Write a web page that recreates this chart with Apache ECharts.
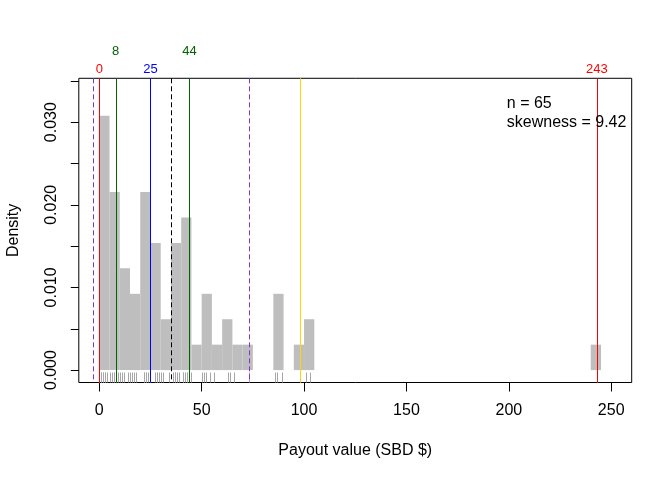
<!DOCTYPE html>
<html>
<head>
<meta charset="utf-8">
<script src="https://cdn.jsdelivr.net/npm/echarts@6/dist/echarts.min.js"></script>
<style>
html,body{margin:0;padding:0;background:#fff;}
#chart{width:672px;height:480px;}
</style>
</head>
<body>
<div id="chart"></div>
<script>
// ---- data ----
const n = 65;
const binWidth = 5;
const binStarts = [0, 5, 10, 15, 20, 25, 30, 35, 40, 45, 50, 55, 60, 65, 70, 85, 95, 100, 240];
const binCounts = [10, 7, 4, 3, 7, 5, 2, 5, 6, 1, 3, 1, 2, 1, 1, 3, 1, 2, 1];
const rugValues = [0, 0, 1, 1, 2, 2, 3, 3, 4, 5,
  6, 7, 7, 8, 8, 9, 10,
  11, 12, 14, 15,
  16, 17, 18,
  22, 22, 23, 23, 24, 25, 25,
  27, 28, 28, 29, 30,
  31, 34,
  36, 37, 37, 38, 39,
  41, 41, 42, 43, 43, 45,
  50,
  51, 52, 54,
  56,
  63, 64,
  66,
  73,
  86, 87, 89,
  98,
  101, 103,
  243];
const refLineValues = [-2.9, 0, 8, 25, 35.2, 44, 73.3, 98.2, 243];
const lowerLabelValues = [0, 25, 243];
const upperLabelValues = [8, 44];
const xTicks = [0, 50, 100, 150, 200, 250];
const yTicks = [0, 0.005, 0.01, 0.015, 0.02, 0.025, 0.03, 0.035];
const yTickLabels = [0, 0.01, 0.02, 0.03];
const annotationLines = ['n = 65', 'skewness = 9.42'];
const annotationX = 199;
const annotationY = [0.0323, 0.0299];

// ---- styles ----
const FONT = 'Liberation Sans, Arial, sans-serif';
const X_MIN = -10, X_MAX = 260;
const Y_MIN = -0.0015, Y_MAX = 0.0353;
const refLineStyles = [
  {color: '#8A2BE2', dash: [5, 3]},
  {color: '#FF0000', dash: null},
  {color: '#006400', dash: null},
  {color: '#0000FF', dash: null},
  {color: '#000000', dash: [5, 3]},
  {color: '#006400', dash: null},
  {color: '#8A2BE2', dash: [5, 3]},
  {color: '#FFD700', dash: null},
  {color: '#FF0000', dash: null}
];
const lowerLabelColors = ['#FF0000', '#0000FF', '#FF0000'];
const upperLabelColors = ['#006400', '#006400'];

const chart = echarts.init(document.getElementById('chart'), null, {renderer: 'canvas'});

const option = {
  animation: false,
  backgroundColor: '#ffffff',
  grid: {
    left: 78.8, right: 40.3, top: 78.3, bottom: 97.5,
    outerBoundsMode: 'none', containLabel: false,
    show: true, borderColor: '#000', borderWidth: 1, backgroundColor: 'transparent'
  },
  xAxis: {
    type: 'value', min: X_MIN, max: X_MAX, scale: true,
    axisLine: {show: false, onZero: false},
    splitLine: {show: false},
    axisTick: {show: true, inside: false, customValues: xTicks, length: 9, lineStyle: {color: '#000'}},
    axisLabel: {customValues: xTicks, margin: 20, fontSize: 16, fontFamily: FONT, color: '#000'},
    name: 'Payout value (SBD $)', nameLocation: 'middle', nameGap: 60,
    nameTextStyle: {fontSize: 16, fontFamily: FONT, color: '#000'}
  },
  yAxis: {
    type: 'value', min: Y_MIN, max: Y_MAX, scale: true,
    axisLine: {show: false, onZero: false},
    splitLine: {show: false},
    axisTick: {show: true, inside: false, customValues: yTicks, length: 8, lineStyle: {color: '#000'}},
    axisLabel: {customValues: yTickLabels, rotate: 90, margin: 19, fontSize: 16, fontFamily: FONT, color: '#000',
      formatter: v => Number(v).toFixed(3)},
    name: 'Density', nameLocation: 'middle', nameGap: 57, nameRotate: 90,
    nameTextStyle: {fontSize: 16, fontFamily: FONT, color: '#000'}
  },
  series: [
    {
      type: 'custom', z: 1,
      data: binStarts.map((s, i) => [s, binCounts[i] / (n * binWidth)]),
      renderItem: (params, api) => {
        const x0 = api.value(0), d = api.value(1);
        const p0 = api.coord([x0, d]);
        const p1 = api.coord([x0 + binWidth, 0]);
        return {type: 'rect', shape: {x: p0[0], y: p0[1], width: p1[0] - p0[0], height: p1[1] - p0[1]},
          style: {fill: '#BEBEBE'}};
      }
    },
    {
      type: 'custom', z: 2,
      data: rugValues.map(v => [v]),
      renderItem: (params, api) => {
        const p = api.coord([api.value(0), Y_MIN]);
        const x = Math.round(p[0]) + 0.5;
        return {type: 'line', shape: {x1: x, y1: p[1], x2: x, y2: p[1] - 10},
          style: {stroke: '#A6A6A6', lineWidth: 1}};
      }
    },
    {
      type: 'custom', z: 3,
      data: refLineValues.map(v => [v]),
      renderItem: (params, api) => {
        const top = api.coord([api.value(0), Y_MAX]);
        const bot = api.coord([api.value(0), Y_MIN]);
        const st = refLineStyles[params.dataIndex];
        const x = Math.round(top[0]) + 0.5;
        return {type: 'line', shape: {x1: x, y1: top[1], x2: x, y2: bot[1]},
          style: {stroke: st.color, lineWidth: 1, lineDash: st.dash || undefined}};
      }
    },
    {
      type: 'custom', z: 4, clip: false,
      data: lowerLabelValues.map(v => [v]),
      renderItem: (params, api) => {
        const p = api.coord([api.value(0), Y_MAX]);
        return {type: 'text', x: p[0], y: p[1] - 8.5,
          style: {text: String(api.value(0)), fill: lowerLabelColors[params.dataIndex], font: '13px ' + FONT,
            textAlign: 'center', textVerticalAlign: 'middle'}};
      }
    },
    {
      type: 'custom', z: 4, clip: false,
      data: upperLabelValues.map(v => [v]),
      renderItem: (params, api) => {
        const p = api.coord([api.value(0), Y_MAX]);
        return {type: 'text', x: p[0], y: p[1] - 27,
          style: {text: String(api.value(0)), fill: upperLabelColors[params.dataIndex], font: '13px ' + FONT,
            textAlign: 'center', textVerticalAlign: 'middle'}};
      }
    },
    {
      type: 'custom', z: 5, clip: false,
      data: annotationLines.map((t, i) => [annotationX, annotationY[i]]),
      renderItem: (params, api) => {
        const p = api.coord([api.value(0), api.value(1)]);
        return {type: 'text', x: p[0], y: p[1],
          style: {text: annotationLines[params.dataIndex], fill: '#000', font: '16px ' + FONT,
            textAlign: 'left', textVerticalAlign: 'middle'}};
      }
    }
  ]
};
chart.setOption(option);
</script>
</body>
</html>
